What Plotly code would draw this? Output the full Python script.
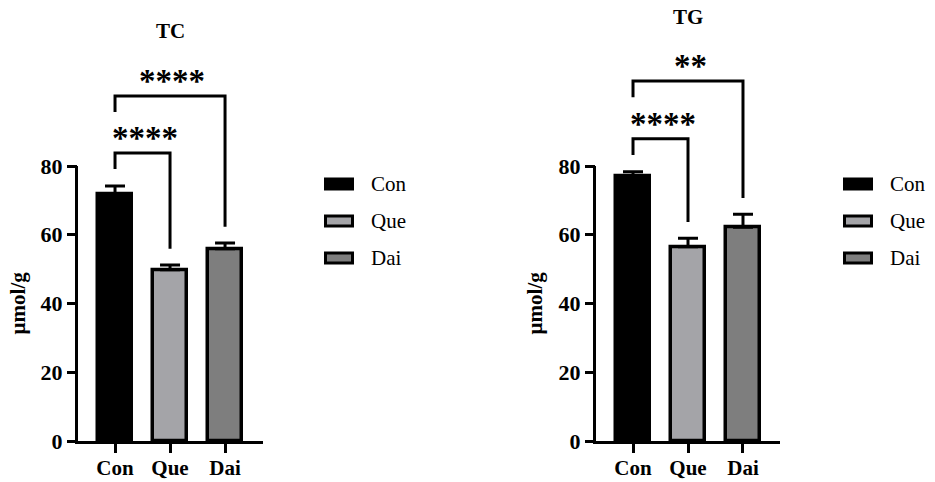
import plotly.graph_objects as go

# groups and values (mean, SEM)
groups = ["Con", "Que", "Dai"]
colors = ["#000000", "#a4a4a8", "#7e7e7e"]

tc_mean = [71.9, 49.8, 55.9]
tc_sem = [2.3, 1.4, 1.7]
tg_mean = [77.1, 56.5, 62.2]
tg_sem = [1.2, 2.5, 3.8]

# significance brackets: (from, to, label, bracket height)
tc_sig = [("Con", "Que", "****", 83.8), ("Con", "Dai", "****", 100.4)]
tg_sig = [("Con", "Que", "****", 87.9), ("Con", "Dai", "**", 104.7)]

W, H = 935, 482
FONT = "Liberation Serif"
YMAX = 116
GAP = 4.7
PLOT_H = YMAX * 3.4375


def px(x):
    return x / W


def py(y):
    return 1 - y / H


panels = [
    dict(title="TC", mean=tc_mean, sem=tc_sem, sig=tc_sig, dom=(78, 263),
         rng=[-0.673, 2.69], title_y=31, ytitle_x=17, leg_x=324),
    dict(title="TG", mean=tg_mean, sem=tg_sem, sig=tg_sig, dom=(596, 780),
         rng=[-0.673, 2.673], title_y=17, ytitle_x=534, leg_x=843),
]

fig = go.Figure()
shapes = []
annotations = []
ydom = [py(441), py(441 - PLOT_H)]
tickfont = dict(family=FONT, size=22, color="black", weight="bold")

for i, p in enumerate(panels):
    n = "" if i == 0 else str(i + 1)
    xa, ya = "x" + n, "y" + n
    fig.add_trace(go.Bar(
        x=groups, y=p["mean"], xaxis=xa, yaxis=ya, width=0.62,
        marker=dict(color=colors, line=dict(color="black", width=3.5)),
        error_y=dict(type="data", array=p["sem"], arrayminus=[0] * 3,
                     symmetric=False, color="black", thickness=3, width=10),
        showlegend=False, hoverinfo="skip",
    ))
    fig.layout["xaxis" + n] = dict(
        domain=[px(p["dom"][0]), px(p["dom"][1])], anchor=ya, range=p["rng"],
        showline=True, linewidth=3, linecolor="black", ticks="outside",
        ticklen=9, tickwidth=3, tickcolor="black", showgrid=False,
        automargin=False, ticklabelstandoff=-3,
        tickfont=dict(family=FONT, size=21, color="black", weight="bold"),
    )
    fig.layout["yaxis" + n] = dict(
        domain=ydom, anchor=xa, range=[0, YMAX], showline=False,
        tickvals=[0, 20, 40, 60, 80], ticks="outside", ticklen=10,
        tickwidth=3, tickcolor="black", showgrid=False, zeroline=False,
        automargin=False, tickfont=tickfont,
    )
    # y axis line only up to 80
    span = p["dom"][1] - p["dom"][0]
    shapes.append(dict(type="line", xref=xa + " domain", yref=ya + " domain",
                       x0=-1.5 / span, x1=-1.5 / span, y0=-3 / PLOT_H, y1=80 / YMAX,
                       line=dict(color="black", width=3)))

    top = {g: m + s for g, m, s in zip(groups, p["mean"], p["sem"])}
    for a, b, label, yb in p["sig"]:
        ia, ib = groups.index(a), groups.index(b)
        y_left = yb - GAP
        shapes.append(dict(type="path", xref=xa, yref=ya,
                           path=f"M {ia},{y_left} L {ia},{yb} L {ib},{yb} L {ib},{top[b] + GAP}",
                           line=dict(color="black", width=3)))
        annotations.append(dict(x=(ia + ib) / 2 + 0.04, y=yb - 1.5, xref=xa, yref=ya,
                                text=label, showarrow=False, yanchor="bottom",
                                font=dict(family=FONT, size=33, color="black", weight="bold")))

    annotations.append(dict(x="Que", y=py(p["title_y"]), xref=xa, yref="paper",
                            text=p["title"], showarrow=False, yanchor="middle",
                            font=dict(family=FONT, size=21, color="black", weight="bold")))
    annotations.append(dict(x=px(p["ytitle_x"]), y=40, xref="paper", yref=ya,
                            text="µmol/g", textangle=-90, showarrow=False,
                            xanchor="center", yanchor="middle",
                            font=dict(family=FONT, size=21, color="black", weight="bold")))

    # legend drawn by hand to get the wide swatches
    for k, (g, c) in enumerate(zip(groups, colors)):
        yc = 184 + k * 37
        shapes.append(dict(type="rect", xref="paper", yref="paper",
                           x0=px(p["leg_x"] + 1.5), x1=px(p["leg_x"] + 28.5),
                           y0=py(yc + 5), y1=py(yc - 5), fillcolor=c,
                           line=dict(color="black", width=3)))
        annotations.append(dict(x=px(p["leg_x"] + 45), y=py(yc), xref="paper", yref="paper",
                                text=g, showarrow=False, xanchor="left", yanchor="middle",
                                font=dict(family=FONT, size=21, color="black")))

fig.update_layout(
    width=W, height=H, margin=dict(l=0, r=0, t=0, b=0),
    plot_bgcolor="white", paper_bgcolor="white",
    shapes=shapes, annotations=annotations, bargap=0,
)

fig.write_html("out.html", config={"displayModeBar": False},
               post_script="document.body.style.margin = '0';")
